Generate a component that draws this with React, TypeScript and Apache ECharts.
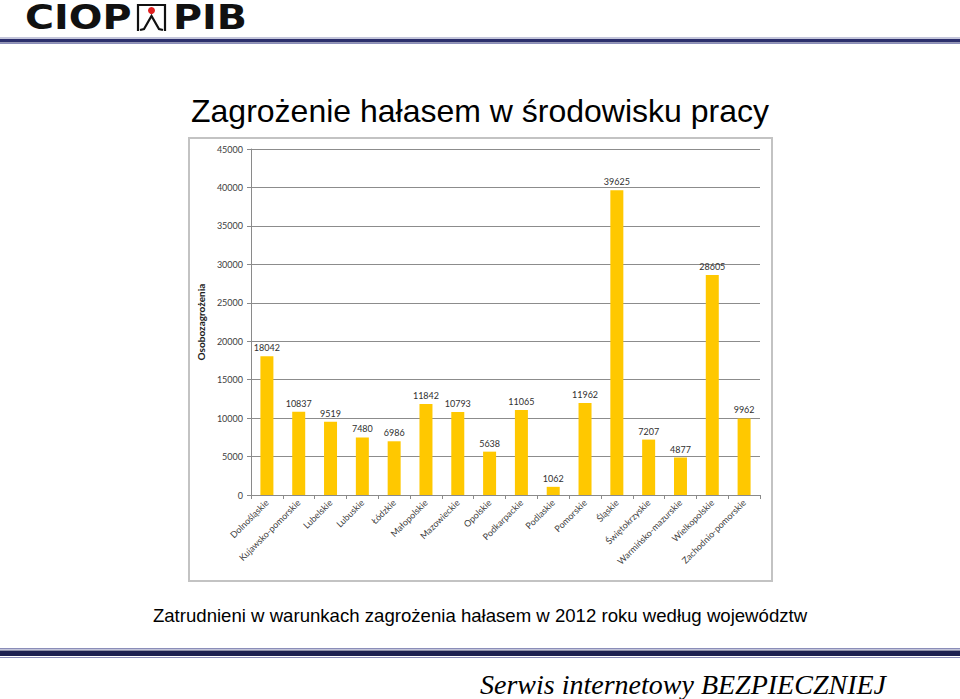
import React, { useEffect, useRef } from "react";
import * as echarts from "echarts";

const categories = [
  "Dolnośląskie",
  "Kujawsko-pomorskie",
  "Lubelskie",
  "Lubuskie",
  "Łódzkie",
  "Małopolskie",
  "Mazowieckie",
  "Opolskie",
  "Podkarpackie",
  "Podlaskie",
  "Pomorskie",
  "Śląskie",
  "Świętokrzyskie",
  "Warmińsko-mazurskie",
  "Wielkopolskie",
  "Zachodnio-pomorskie",
];
const values = [18042, 10837, 9519, 7480, 6986, 11842, 10793, 5638, 11065, 1062, 11962, 39625, 7207, 4877, 28605, 9962];
const yMin = 0;
const yMax = 45000;
const yInterval = 5000;

const titleText = "Zagrożenie hałasem w środowisku pracy";
const subtitleText = "Zatrudnieni w warunkach zagrożenia hałasem w 2012 roku według województw";
const footerText = "Serwis internetowy BEZPIECZNIEJ";
const yAxisName = "Osobozagrożenia";

export default function App() {
  const ref = useRef<HTMLDivElement>(null);
  useEffect(() => {
    if (!ref.current) return;
    const chart = echarts.init(ref.current, null, { renderer: "svg" });
    const labelFont = "Lato, 'Open Sans', sans-serif";
    chart.setOption({
      animation: false,
      backgroundColor: "#ffffff",
      grid: { left: 251, right: 200, top: 149, bottom: 204, containLabel: false },
      xAxis: {
        type: "category",
        data: categories,
        boundaryGap: true,
        axisLine: { lineStyle: { color: "#8a8a8a", width: 1 } },
        axisTick: { show: true, alignWithLabel: false, length: 4, lineStyle: { color: "#8a8a8a" } },
        axisLabel: {
          rotate: 45,
          interval: 0,
          fontSize: 9,
          fontFamily: labelFont,
          color: "#404040",
          margin: 6,
        },
      },
      yAxis: {
        type: "value",
        min: yMin,
        max: yMax,
        interval: yInterval,
        name: yAxisName,
        nameLocation: "middle",
        nameGap: 40,
        nameRotate: 90,
        nameTextStyle: { fontSize: 10, fontWeight: "bold", fontFamily: labelFont, color: "#202020" },
        axisLine: { show: true, lineStyle: { color: "#8a8a8a", width: 1 } },
        axisTick: { show: true, length: 4, lineStyle: { color: "#8a8a8a" } },
        axisLabel: {
          fontSize: 9,
          fontFamily: labelFont,
          color: "#404040",
          margin: 8,
          formatter: (v: number) => String(v),
        },
        splitLine: { show: true, lineStyle: { color: "#8c8c8c", width: 1 } },
      },
      series: [
        {
          type: "bar",
          data: values,
          barWidth: 13,
          itemStyle: { color: "#FFC800" },
          label: {
            show: true,
            position: "top",
            distance: 4,
            fontSize: 9,
            fontFamily: labelFont,
            color: "#303030",
          },
        },
      ],
      graphic: [
        {
          type: "rect",
          z: -10,
          shape: { x: 189, y: 138, width: 583, height: 443 },
          style: { fill: "none", stroke: "#c3c3c3", lineWidth: 2 },
        },
        // logo
        {
          type: "text",
          x: 25,
          y: 18,
          scaleX: 1.2,
          style: {
            text: "CIOP",
            font: "bold 33px 'DejaVu Sans', sans-serif",
            lineHeight: 26,
            fill: "#111111",
            textVerticalAlign: "middle",
          },
        },
        {
          type: "text",
          x: 173,
          y: 18,
          scaleX: 1.2,
          style: {
            text: "PIB",
            font: "bold 33px 'DejaVu Sans', sans-serif",
            lineHeight: 26,
            fill: "#111111",
            textVerticalAlign: "middle",
          },
        },
        {
          type: "polyline",
          shape: { points: [[138, 31], [138, 5], [165, 5], [165, 31]] },
          style: { stroke: "#111111", lineWidth: 2.2, fill: "none" },
        },
        {
          type: "polyline",
          shape: { points: [[140, 30], [144, 29], [151.5, 16], [159, 29], [163, 30]] },
          style: { stroke: "#111111", lineWidth: 2.2, fill: "none" },
        },
        {
          type: "circle",
          shape: { cx: 151.5, cy: 10.5, r: 3.5 },
          style: { fill: "#e02020" },
        },
        // header lines
        { type: "rect", shape: { x: 0, y: 37.5, width: 960, height: 1 }, style: { fill: "#8a8db8" } },
        { type: "rect", shape: { x: 0, y: 39, width: 960, height: 3.5 }, style: { fill: "#2c2f6c" } },
        { type: "rect", shape: { x: 0, y: 43, width: 960, height: 1 }, style: { fill: "#8a8db8" } },
        // footer lines
        { type: "rect", shape: { x: 0, y: 648, width: 960, height: 1.5 }, style: { fill: "#8a8db8" } },
        { type: "rect", shape: { x: 0, y: 650.5, width: 960, height: 5.5 }, style: { fill: "#1d2050" } },
        { type: "rect", shape: { x: 0, y: 657, width: 960, height: 1 }, style: { fill: "#8a8db8" } },
        // titles
        {
          type: "text",
          x: 480,
          y: 111,
          style: {
            text: titleText,
            font: "32px 'Liberation Sans', Arial, sans-serif",
            fill: "#000000",
            textAlign: "center",
            textVerticalAlign: "middle",
          },
        },
        {
          type: "text",
          x: 480,
          y: 615,
          style: {
            text: subtitleText,
            font: "18.6px 'Liberation Sans', Arial, sans-serif",
            fill: "#000000",
            textAlign: "center",
            textVerticalAlign: "middle",
          },
        },
        {
          type: "text",
          x: 886,
          y: 684,
          style: {
            text: footerText,
            font: "italic 28px 'Liberation Serif', 'Times New Roman', serif",
            fill: "#000000",
            textAlign: "right",
            textVerticalAlign: "middle",
          },
        },
      ],
    });
    return () => chart.dispose();
  }, []);
  return (
    <div
      ref={ref}
      style={{ position: "absolute", left: 0, top: 0, width: 960, height: 699, background: "#fff" }}
    />
  );
}
